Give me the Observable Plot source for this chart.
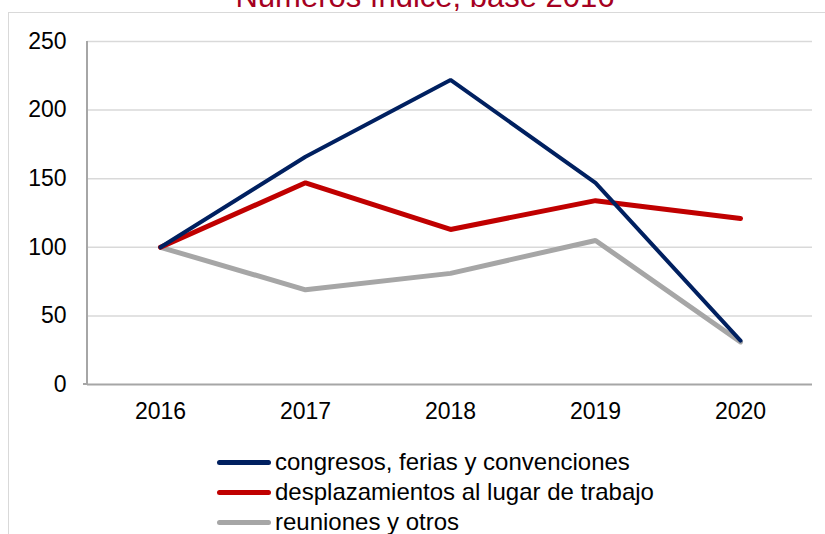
<!DOCTYPE html>
<html>
<head>
<meta charset="utf-8">
<script src="https://cdn.jsdelivr.net/npm/d3@7"></script>
<script src="https://cdn.jsdelivr.net/npm/@observablehq/plot@0.6"></script>
<style>
  html, body { margin: 0; padding: 0; background: #fff; overflow: hidden; }
  body { width: 825px; height: 534px; position: relative; font-family: "Liberation Sans", Arial, sans-serif; }
  #frame { position: absolute; left: 8px; top: 12px; width: 830px; height: 540px; border: 1px solid #d9d9d9; box-sizing: border-box; }
  #title { position: absolute; left: 0; width: 850px; top: -20px; text-align: center; font-size: 31px; line-height: 34px; color: #A50021; white-space: nowrap; }
  #chart { position: absolute; left: 0; top: 0; }
  #legend { position: absolute; left: 217px; top: 447px; font-size: 24px; color: #000; }
  .item { display: flex; align-items: center; height: 30px; }
  .sw { width: 54px; height: 5px; border-radius: 3px; margin-right: 4px; }
</style>
</head>
<body>
<div id="frame"></div>
<div id="title">Números índice, base 2016</div>
<div id="chart"></div>
<div id="legend"></div>
<script>
const years = ["2016", "2017", "2018", "2019", "2020"];
const seriesNames = ["congresos, ferias y convenciones", "desplazamientos al lugar de trabajo", "reuniones y otros"];
const congresos = [100, 166, 222, 147, 32];
const desplazamientos = [100, 147, 113, 134, 121];
const reuniones = [100, 69, 81, 105, 31];
const colors = ["#002060", "#C00000", "#A6A6A6"];
const yTicks = [0, 50, 100, 150, 200, 250];

const allValues = [congresos, desplazamientos, reuniones];
const data = [];
seriesNames.forEach((s, i) => years.forEach((y, j) => data.push({series: s, year: y, value: allValues[i][j]})));

const plot = Plot.plot({
  width: 825,
  height: 430,
  marginLeft: 87,
  marginRight: 13,
  marginTop: 41,
  marginBottom: 46,
  style: { fontFamily: "'Liberation Sans', Arial, sans-serif", fontSize: "23px", color: "#000", background: "transparent" },
  x: { type: "point", domain: years, padding: 0.5, label: null },
  y: { domain: [0, 250], ticks: yTicks, label: null },
  color: { domain: seriesNames, range: colors },
  marks: [
    Plot.ruleY(yTicks.filter(d => d > 0), { stroke: "#d9d9d9", strokeWidth: 1.5 }),
    Plot.ruleY([0], { stroke: "#A6A6A6", strokeWidth: 2 }),
    Plot.axisY({ ticks: yTicks, tickSize: 0, tickPadding: 21, fontSize: 23 }),
    Plot.axisX({ tickSize: 0, tickPadding: 18, fontSize: 23 }),
    Plot.line(data.filter(d => d.series === seriesNames[2]), { x: "year", y: "value", stroke: "series", strokeWidth: 5, strokeLinejoin: "miter", strokeLinecap: "round" }),
    Plot.line(data.filter(d => d.series === seriesNames[1]), { x: "year", y: "value", stroke: "series", strokeWidth: 5, strokeLinejoin: "miter", strokeLinecap: "round" }),
    Plot.line(data.filter(d => d.series === seriesNames[0]), { x: "year", y: "value", stroke: "series", strokeWidth: 4, strokeLinejoin: "miter", strokeLinecap: "round" })
  ]
});
document.getElementById("chart").appendChild(plot);

// vertical y-axis line at left edge of plot area
const svg = d3.select(plot);
svg.append("line")
  .attr("x1", 87).attr("x2", 87).attr("y1", 41).attr("y2", 384)
  .attr("stroke", "#A6A6A6").attr("stroke-width", 2);
svg.append("line")
  .attr("x1", 83).attr("x2", 87).attr("y1", 384).attr("y2", 384)
  .attr("stroke", "#A6A6A6").attr("stroke-width", 2);

const legend = document.getElementById("legend");
seriesNames.forEach((s, i) => {
  const row = document.createElement("div");
  row.className = "item";
  const sw = document.createElement("span");
  sw.className = "sw";
  sw.style.background = colors[i];
  const t = document.createElement("span");
  t.textContent = s;
  row.appendChild(sw); row.appendChild(t);
  legend.appendChild(row);
});
</script>
</body>
</html>
